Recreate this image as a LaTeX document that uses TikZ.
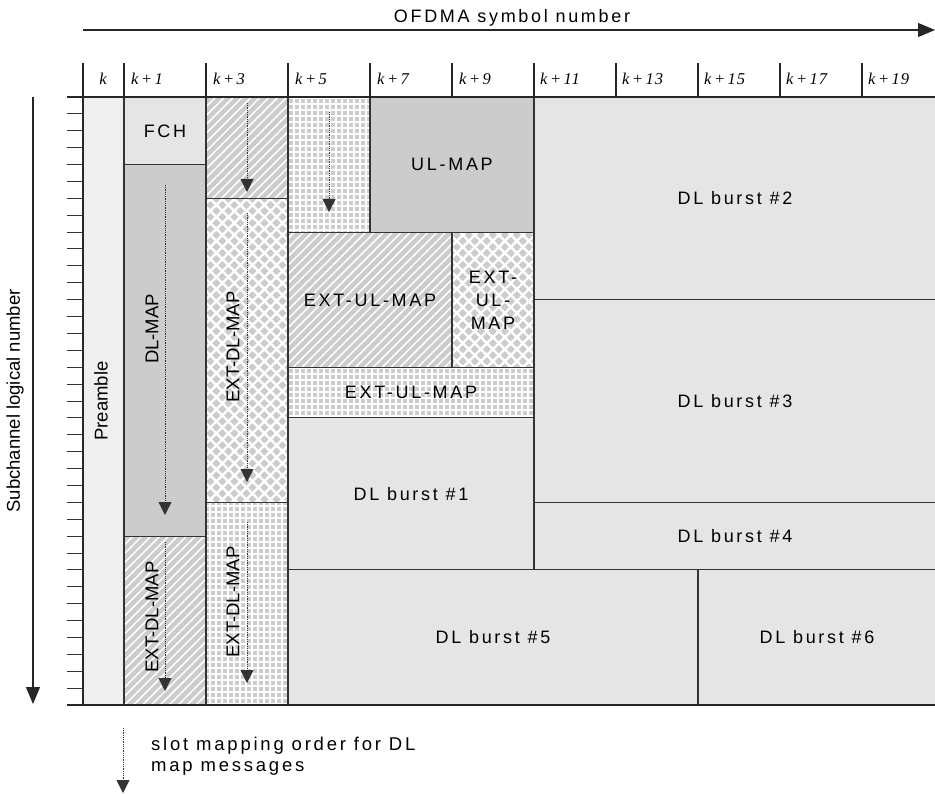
\documentclass[tikz,border=0pt]{standalone}
\usepackage{fontspec}
\setmainfont{Liberation Sans}[LetterSpace=15]
\newfontfamily\plainfont{Liberation Sans}
\newfontfamily\hdrfont{Liberation Serif}[LetterSpace=6]
\usetikzlibrary{patterns.meta,arrows.meta}
\definecolor{lightA}{HTML}{EFEFEF}
\definecolor{lightB}{HTML}{E5E5E5}
\definecolor{midG}{HTML}{CCCCCC}
\definecolor{edge}{HTML}{333333}
\tikzset{
  cellborder/.style={draw=edge, line width=1.1pt},
  plainA/.style={cellborder, fill=lightA},
  plainB/.style={cellborder, fill=lightB},
  plainC/.style={cellborder, fill=midG},
  hatchcell/.style={cellborder, preaction={fill=midG}, pattern={Lines[angle=45,distance=6.3pt,line width=1.5pt]}, pattern color=white},
  xhatchcell/.style={cellborder, preaction={fill=midG}, pattern={Hatch[angle=45,distance=8.5pt,line width=2.4pt]}, pattern color=white},
  gridcell/.style={cellborder, preaction={fill=midG}, pattern={Hatch[angle=0,distance=6pt,line width=1.5pt]}, pattern color=white},
  lbl/.style={font=\fontsize{18}{23}\selectfont, align=center, inner sep=0pt},
  vlbl/.style={inner sep=0pt, rotate=90, font=\plainfont\fontsize{18.5}{22}\selectfont},
  hdr/.style={font=\hdrfont\itshape\fontsize{16.5}{19}\selectfont, inner sep=0pt, anchor=west},
  order/.style={draw=black!80, line width=0.8pt, dash pattern=on 1pt off 0.8pt, -{Triangle[width=13pt,length=13pt]}},
  axisarrow/.style={draw=black!85, line width=1.1pt, -{Triangle[width=14pt,length=17pt]}},
  tick/.style={draw=black!80, line width=1pt},
  hline/.style={draw=black!85, line width=1.1pt}
}
\newcommand\kk[1]{k\kern2.5pt+\kern2.5pt#1}
\begin{document}
\begin{tikzpicture}[x=1pt,y=-1pt]
\useasboundingbox (0,0) rectangle (935,794);
\begin{scope}
\clip (0,0) rectangle (935,794);
% blocks
\path[plainA] (83,97) rectangle (124,705);
\path[plainB] (124,97) rectangle (206,164.6);
\path[plainC] (124,164.6) rectangle (206,536.1);
\path[hatchcell] (124,536.1) rectangle (206,705);
\path[hatchcell] (206,97) rectangle (288,198.3);
\path[xhatchcell] (206,198.3) rectangle (288,502.3);
\path[gridcell] (206,502.3) rectangle (288,705);
\path[gridcell] (288,97) rectangle (370,232.1);
\path[plainC] (370,97) rectangle (534,232.1);
\path[hatchcell] (288,232.1) rectangle (452,367.2);
\path[xhatchcell] (452,232.1) rectangle (534,367.2);
\path[gridcell] (288,367.2) rectangle (534,417.9);
\path[plainB] (288,417.9) rectangle (534,569.9);
\path[plainB] (534,97) rectangle (945,299.7);
\path[plainB] (534,299.7) rectangle (945,502.3);
\path[plainB] (534,502.3) rectangle (945,569.9);
\path[plainB] (288,569.9) rectangle (698,705);
\path[plainB] (698,569.9) rectangle (945,705);
% header lines
\foreach \x in {83,124,206,288,370,452,534,616,698,780,862}
  \draw[hline] (\x,63) -- (\x,97);
\draw[hline] (67,97) -- (940,97);
\draw[hline] (67,705) -- (940,705);
\draw[hline] (83,97) -- (83,705);
\foreach \i in {1,...,35}
  \draw[tick] (67,{97+\i*16.889}) -- (83,{97+\i*16.889});
% header labels
\node[hdr, anchor=center] (hk) at (103,79) {k};
\node[hdr] (h1) at (131,79) {\kk{1}};
\node[hdr] (h3) at (213,79) {\kk{3}};
\node[hdr] (h5) at (295,79) {\kk{5}};
\node[hdr] (h7) at (377,79) {\kk{7}};
\node[hdr] (h9) at (459,79) {\kk{9}};
\node[hdr] (h11) at (540,79) {\kk{11}};
\node[hdr] (h13) at (622,79) {\kk{13}};
\node[hdr] (h15) at (704,79) {\kk{15}};
\node[hdr] (h17) at (786,79) {\kk{17}};
\node[hdr] (h19) at (868,79) {\kk{19}};
% axes
\coordinate (tA) at (83,30);
\coordinate (tB) at (935,30);
\draw[axisarrow] (tA) -- (tB);
\node[lbl] (xlab) at (512,18) {OFDMA symbol number};
\coordinate (lA) at (33,97);
\coordinate (lB) at (33,704);
\draw[axisarrow] (lA) -- (lB);
\node[vlbl] (ylab) at (15,401) {Subchannel logical number};
% block labels
\node[vlbl] (pre) at (101,401) {Preamble};
\node[lbl] (fch) at (165,131) {FCH};
\node[vlbl] (dlmap) at (152,329) {DL-MAP};
\node[vlbl] (edl1) at (152,617) {EXT-DL-MAP};
\node[vlbl] (edl2) at (233,347) {EXT-DL-MAP};
\node[vlbl] (edl3) at (233,602) {EXT-DL-MAP};
\node[lbl] (ulmap) at (452,164) {UL-MAP};
\node[lbl] (eul1) at (370,300) {EXT-UL-MAP};
\node[lbl] (eul2) at (493,300) {EXT-\\UL-\\MAP};
\node[lbl] (eul3) at (411,392.5) {EXT-UL-MAP};
\node[lbl] (b1) at (411,494) {DL burst \#1};
\node[lbl] (b2) at (735,198) {DL burst \#2};
\node[lbl] (b3) at (735,401) {DL burst \#3};
\node[lbl] (b4) at (735,536) {DL burst \#4};
\node[lbl] (b5) at (493,637) {DL burst \#5};
\node[lbl] (b6) at (817,637) {DL burst \#6};
% slot mapping order arrows
\coordinate (a1s) at (247,103); \coordinate (a1e) at (247,192);
\coordinate (a2s) at (329,112); \coordinate (a2e) at (329,212);
\coordinate (a3s) at (165,185); \coordinate (a3e) at (165,515);
\coordinate (a4s) at (247,213); \coordinate (a4e) at (247,482);
\coordinate (a5s) at (165,542); \coordinate (a5e) at (165,691);
\coordinate (a6s) at (247,522); \coordinate (a6e) at (247,683);
\draw[order] (a1s) -- (a1e);
\draw[order] (a2s) -- (a2e);
\draw[order] (a3s) -- (a3e);
\draw[order] (a4s) -- (a4e);
\draw[order] (a5s) -- (a5e);
\draw[order] (a6s) -- (a6e);
% legend
\coordinate (gs) at (123,728); \coordinate (ge) at (123,793);
\draw[order] (gs) -- (ge);
\node[lbl, align=left, anchor=north west, font=\fontsize{18.5}{21}\selectfont] (leg) at (151,737) {slot mapping order for DL\\map messages};
\end{scope}
\end{tikzpicture}
\end{document}
